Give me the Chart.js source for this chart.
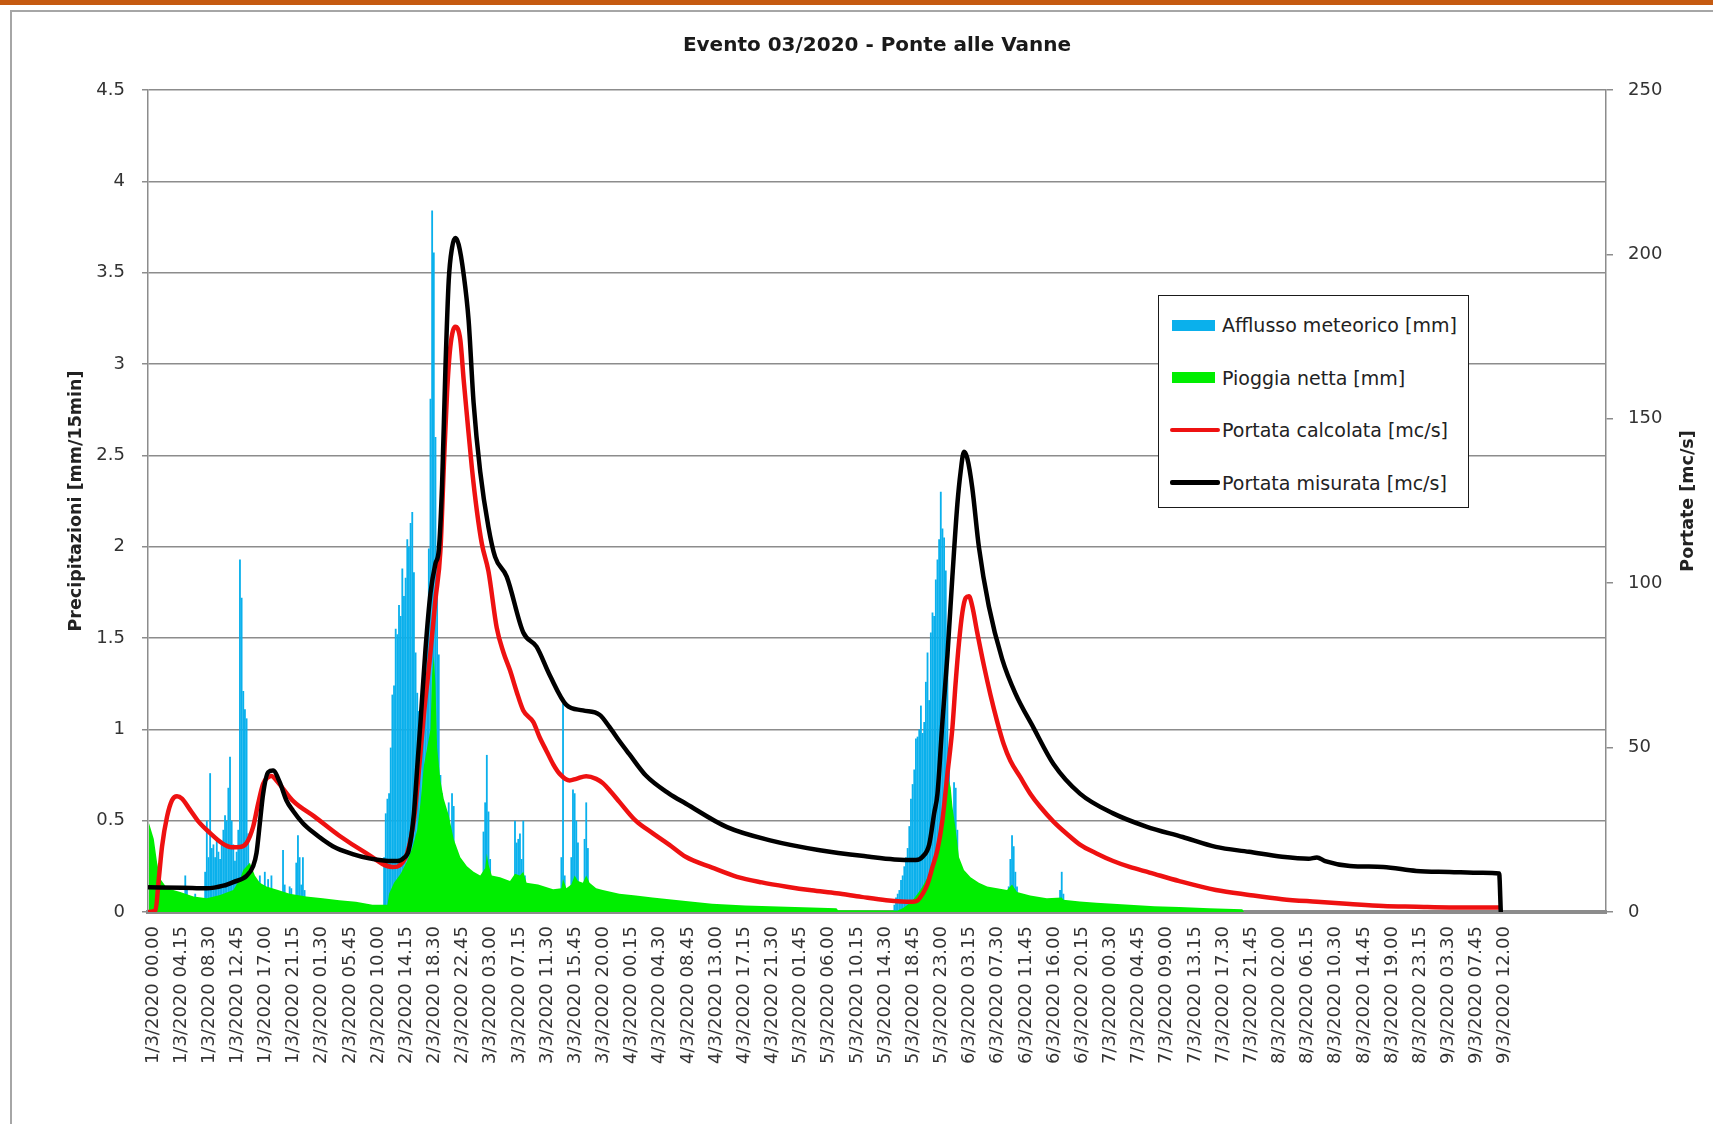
<!DOCTYPE html>
<html>
<head>
<meta charset="utf-8">
<script src="https://cdn.jsdelivr.net/npm/chart.js@4.4.1/dist/chart.umd.min.js"></script>
<style>
  html, body { margin: 0; padding: 0; background: #ffffff; }
  body { width: 1713px; height: 1124px; position: relative; overflow: hidden; }
  #topbar { position: absolute; left: 0; top: 0; width: 1713px; height: 5px; background: #c55a11; }
  #frame { position: absolute; left: 10px; top: 10px; width: 1760px; height: 1200px;
           border-left: 2px solid #a6a6a6; border-top: 2px solid #a6a6a6; }
  #chart { position: absolute; left: 0; top: 0; }
  #legend { position: absolute; left: 1158px; top: 295px; width: 309px; height: 211px;
            border: 1.5px solid #1a1a1a; background: #ffffff;
            font-family: "DejaVu Sans"; font-size: 19px; color: #222; }
  .lg-item { position: absolute; left: 0; width: 300px; height: 26px; }
  .lg-sw { position: absolute; }
  .lg-tx { position: absolute; left: 63px; top: 0; line-height: 26px; white-space: nowrap; }
</style>
</head>
<body>
<div id="topbar"></div>
<div id="frame"></div>
<canvas id="chart" width="1713" height="1124"></canvas>
<div id="legend"></div>
<script>
// ---------------- DATA ----------------
const chartTitle = 'Evento 03/2020 - Ponte alle Vanne';
const leftAxisTitle = 'Precipitazioni [mm/15min]';
const rightAxisTitle = 'Portate [mc/s]';
const seriesNames = ['Afflusso meteorico [mm]', 'Pioggia netta [mm]', 'Portata calcolata [mc/s]', 'Portata misurata [mc/s]'];

// one category every 15 minutes; a label every 17 categories
const TICK_STEP = 17;
const N_STEPS = 880;
const tickLabels = [
  '1/3/2020 00.00','1/3/2020 04.15','1/3/2020 08.30','1/3/2020 12.45','1/3/2020 17.00','1/3/2020 21.15',
  '2/3/2020 01.30','2/3/2020 05.45','2/3/2020 10.00','2/3/2020 14.15','2/3/2020 18.30','2/3/2020 22.45',
  '3/3/2020 03.00','3/3/2020 07.15','3/3/2020 11.30','3/3/2020 15.45','3/3/2020 20.00',
  '4/3/2020 00.15','4/3/2020 04.30','4/3/2020 08.45','4/3/2020 13.00','4/3/2020 17.15','4/3/2020 21.30',
  '5/3/2020 01.45','5/3/2020 06.00','5/3/2020 10.15','5/3/2020 14.30','5/3/2020 18.45','5/3/2020 23.00',
  '6/3/2020 03.15','6/3/2020 07.30','6/3/2020 11.45','6/3/2020 16.00','6/3/2020 20.15',
  '7/3/2020 00.30','7/3/2020 04.45','7/3/2020 09.00','7/3/2020 13.15','7/3/2020 17.30','7/3/2020 21.45',
  '8/3/2020 02.00','8/3/2020 06.15','8/3/2020 10.30','8/3/2020 14.45','8/3/2020 19.00','8/3/2020 23.15',
  '9/3/2020 03.30','9/3/2020 07.45','9/3/2020 12.00'
];

// [step index (15 min), mm]
const afflusso = [
  [22,0.2],[23,0.12],[28,0.1],
  [34,0.22],[35,0.5],[36,0.3],[37,0.76],[38,0.35],[39,0.37],[40,0.3],[41,0.4],[42,0.33],[43,0.29],[44,0.38],
  [45,0.45],[46,0.53],[47,0.5],[48,0.68],[49,0.85],[50,0.5],[51,0.37],[52,0.28],[53,0.33],[54,0.45],
  [55,1.93],[56,1.72],[57,1.21],[58,1.11],[59,1.06],[60,0.43],[61,0.23],[62,0.19],
  [67,0.2],[68,0.12],[70,0.22],[72,0.18],[74,0.2],[81,0.34],[82,0.15],[85,0.14],[86,0.13],
  [89,0.27],[90,0.42],[91,0.3],[92,0.15],[93,0.3],[94,0.12],
  [142,0.3],[143,0.54],[144,0.62],[145,0.65],[146,0.9],[147,1.19],[148,1.24],[149,1.55],[150,1.52],
  [151,1.68],[152,1.62],[153,1.88],[154,1.73],[155,1.83],[156,2.04],[157,2.0],[158,2.13],[159,2.19],
  [160,1.86],[161,1.42],[162,1.2],[163,1.1],[164,1.0],[165,0.95],[166,1.05],[167,1.3],[168,1.6],
  [169,1.99],[170,2.81],[171,3.84],[172,3.61],[173,2.6],[174,1.93],[175,1.41],[176,0.75],[177,0.65],
  [181,0.6],[183,0.65],[184,0.58],
  [202,0.44],[203,0.6],[204,0.86],[205,0.55],[206,0.29],
  [221,0.5],[222,0.38],[223,0.4],[224,0.43],[225,0.29],[226,0.5],[227,0.2],
  [249,0.3],[250,1.14],[251,0.2],
  [255,0.3],[256,0.67],[257,0.65],[258,0.5],[259,0.38],
  [263,0.4],[264,0.6],[265,0.35],
  [450,0.04],[451,0.08],[452,0.1],[453,0.12],[454,0.175],[455,0.2],[456,0.25],[457,0.3],[458,0.35],
  [459,0.47],[460,0.62],[461,0.7],[462,0.78],[463,0.95],[464,0.96],[465,1.0],[466,1.13],[467,0.98],
  [468,1.04],[469,1.26],[470,1.42],[471,1.16],[472,1.53],[473,1.64],[474,1.62],[475,1.82],[476,1.93],
  [477,2.04],[478,2.3],[479,2.1],[480,2.05],[481,1.87],[482,1.36],[483,0.9],[486,0.71],[487,0.68],[488,0.45],
  [519,0.14],[520,0.29],[521,0.42],[522,0.36],[523,0.22],[524,0.14],
  [550,0.12],[551,0.22],[552,0.1]
];

// [step index, mm]
const pioggiaNetta = [
  [0,0.49],[1,0.46],[3,0.4],[5,0.27],[7,0.18],[11,0.13],[19,0.11],[27,0.085],[35,0.075],[43,0.093],
  [51,0.12],[55,0.18],[57,0.23],[61,0.27],[64,0.2],[67,0.16],[71,0.14],[78,0.12],[85,0.1],[95,0.085],
  [105,0.075],[115,0.065],[125,0.056],[135,0.04],[144,0.04],[145,0.1],[148,0.16],[152,0.21],[156,0.28],
  [159,0.35],[162,0.45],[164,0.6],[166,0.8],[168,0.9],[170,1.0],[171,1.3],[172,1.4],[173,1.25],[174,0.9],
  [176,0.72],[178,0.62],[181,0.53],[184,0.4],[188,0.3],[192,0.25],[196,0.22],[200,0.2],[203,0.24],
  [204,0.32],[205,0.26],[207,0.2],[212,0.19],[218,0.17],[221,0.21],[224,0.2],[226,0.22],[228,0.16],
  [235,0.15],[244,0.125],[249,0.13],[250,0.18],[252,0.13],[255,0.15],[257,0.2],[259,0.17],[262,0.16],
  [264,0.2],[266,0.16],[270,0.13],[274,0.12],[284,0.1],[294,0.09],[304,0.08],[314,0.07],[324,0.06],
  [340,0.045],[360,0.035],[380,0.03],[400,0.025],[415,0.02],[416,0.01],[452,0.008],[455,0.02],[458,0.04],
  [461,0.065],[464,0.1],[467,0.14],[470,0.19],[473,0.25],[476,0.38],[478,0.5],[480,0.61],[482,0.7],
  [483,0.72],[484,0.68],[485,0.58],[487,0.45],[489,0.3],[492,0.23],[496,0.19],[501,0.16],[506,0.14],
  [512,0.13],[518,0.12],[521,0.15],[524,0.11],[532,0.09],[542,0.075],[551,0.08],[552,0.067],[562,0.058],
  [572,0.05],[582,0.045],[592,0.04],[607,0.032],[622,0.027],[640,0.02],[660,0.015],[661,0]
];

// [step index, mc/s]
const portataCalcolata = [
  [0,0],[4,0.5],[6,10],[8,20],[11,29],[14,34],[17,35.2],[20,34.5],[25,31],[30,27.5],[37,24],[44,21],
  [50,19.7],[55,19.8],[59,21],[63,26],[66,33],[69,39],[72,41],[74,41.4],[77,40],[81,37.5],[87,33.8],
  [100,29],[115,23.2],[130,18.3],[147,13.7],[150,13.8],[153,15],[156,18],[160,28],[163,43],[166,60],
  [170,79],[173,95],[176,110],[178,135],[180,158],[182,172],[185,178],[188,174],[190,162],[192,151],
  [195,135],[198,122],[201,112],[205,103.6],[210,86.4],[214,79],[218,73.5],[222,67],[226,61.3],[232,57.8],
  [236,53],[240,49],[244,45],[248,42],[254,40],[258,40.5],[264,41.3],[270,40.5],[274,39.2],[279,36.5],
  [284,33.5],[294,27.7],[304,24],[314,20.5],[324,16.8],[340,13.5],[355,10.7],[370,9],[385,7.7],[400,6.6],
  [415,5.7],[430,4.6],[445,3.6],[461,3.1],[464,3.5],[467,5.5],[470,8.5],[473,13.7],[476,19],[479,28],
  [482,42],[485,56],[487,70],[489,82],[491,91],[493,95.5],[495,96],[497,93],[500,85],[504,75],[508,66],
  [512,58],[516,51],[520,46],[526,41],[532,36],[538,32],[546,27.5],[554,23.8],[562,20.5],[572,17.8],
  [582,15.5],[592,13.7],[604,12],[622,9.4],[644,6.7],[664,5.2],[684,3.9],[705,3.1],[725,2.4],[745,1.8],
  [765,1.6],[785,1.4],[815,1.4]
];

// [step index, mc/s]
const portataMisurata = [
  [0,7.5],[20,7.4],[35,7.2],[45,8],[51,9.1],[59,11],[63,14],[65,18],[67,27],[69,36],[72,42.5],[75,43],
  [79,39.5],[83,34],[87,30.8],[93,27],[99,24.3],[111,20],[123,17.6],[133,16.3],[143,15.6],[150,15.5],
  [154,16.5],[157,19],[160,30],[162,44],[164,58],[167,80],[170,97],[173,106],[175,110],[177,130],[179,165],
  [181,192],[183,202],[185,205],[187,203],[190,194],[193,180],[196,155],[200,134],[205,117],[209,108],
  [216,102],[226,85],[234,80.7],[242,72],[252,63],[262,61.3],[272,60],[278,56.3],[284,52],[290,48],
  [300,41.5],[314,36],[324,33],[349,25.8],[375,21.8],[405,18.8],[435,16.8],[450,16],[463,15.8],[467,16.8],
  [471,20.5],[474,30],[476,36],[479,58],[482,78],[485,102],[488,124],[490,134],[492,140],[494,138],
  [497,129],[501,111],[507,93],[515,77],[523,66.5],[534,56],[546,45],[562,36],[582,30],[602,26],
  [624,22.8],[644,19.8],[664,18.3],[684,16.8],[700,16.2],[705,16.6],[710,15.5],[725,14],[745,13.7],
  [765,12.5],[785,12.2],[805,11.9],[815,11.7],[816,0]
];

// ---------------- STYLE ----------------
const COL_BLUE = '#0ab0ec';
const COL_GREEN = '#00ee00';
const COL_RED = '#ee1111';
const COL_BLACK = '#000000';
const COL_GRID = '#8c8c8c';
const COL_TEXT = '#333333';
const FONT = 'DejaVu Sans';

const toXY = arr => arr.map(p => ({ x: p[0], y: p[1] }));

const rightTitlePlugin = {
  id: 'rightTitle',
  afterDraw(chart) {
    const s = chart.scales.y1;
    const ctx = chart.ctx;
    ctx.save();
    ctx.font = 'bold 17.5px "' + FONT + '"';
    ctx.fillStyle = '#222';
    ctx.textAlign = 'center';
    ctx.textBaseline = 'middle';
    ctx.translate(s.right - 25, (chart.chartArea.top + chart.chartArea.bottom) / 2);
    ctx.rotate(-Math.PI / 2);
    ctx.fillText(rightAxisTitle, 0, 0);
    ctx.restore();
  }
};

const chart = new Chart(document.getElementById('chart'), {
  type: 'line',
  data: {
    datasets: [
      { type: 'line', label: seriesNames[3], data: toXY(portataMisurata), yAxisID: 'y1', order: 0,
        borderColor: COL_BLACK, borderWidth: 4.5, pointRadius: 0, cubicInterpolationMode: 'monotone',
        borderJoinStyle: 'round', borderCapStyle: 'round', fill: false },
      { type: 'line', label: seriesNames[2], data: toXY(portataCalcolata), yAxisID: 'y1', order: 1,
        borderColor: COL_RED, borderWidth: 4.5, pointRadius: 0, cubicInterpolationMode: 'monotone',
        borderJoinStyle: 'round', borderCapStyle: 'round', fill: false },
      { type: 'line', label: seriesNames[1], data: toXY(pioggiaNetta), yAxisID: 'y', order: 2,
        borderColor: COL_GREEN, borderWidth: 0, backgroundColor: COL_GREEN, pointRadius: 0, tension: 0,
        fill: 'origin' },
      { type: 'bar', label: seriesNames[0], data: toXY(afflusso), yAxisID: 'y', order: 3,
        backgroundColor: COL_BLUE, borderWidth: 0, barPercentage: 1.1, categoryPercentage: 1, grouped: false }
    ]
  },
  options: {
    responsive: false,
    animation: false,
    devicePixelRatio: 1,
    layout: { padding: { left: 0, right: 0, top: 0, bottom: 0 } },
    plugins: {
      legend: { display: false },
      tooltip: { enabled: false },
      title: { display: true, text: chartTitle, fullSize: false, color: '#1a1a1a',
               font: { family: FONT, size: 20, weight: 'bold' }, padding: { top: 34, bottom: 32 } }
    },
    scales: {
      x: {
        type: 'linear', min: -0.5, max: N_STEPS - 0.5, offset: false, z: 1,
        afterBuildTicks: s => { s.ticks = tickLabels.map((t, k) => ({ value: k * TICK_STEP })); },
        ticks: { autoSkip: false, maxRotation: 90, minRotation: 90, padding: 14, labelOffset: 4,
                 color: COL_TEXT, font: { family: FONT, size: 18 }, callback: (v, idx) => tickLabels[idx] },
        grid: { display: false, drawTicks: false, offset: false },
        border: { display: true, color: COL_GRID, width: 4 },
        afterFit: s => { s.height = 212; }
      },
      y: {
        type: 'linear', position: 'left', min: 0, max: 4.5,
        ticks: { stepSize: 0.5, padding: 17, color: COL_TEXT, font: { family: FONT, size: 18 },
                 callback: v => String(v) },
        grid: { color: COL_GRID, lineWidth: 1.5, tickLength: 6, tickColor: COL_GRID },
        border: { color: COL_GRID, width: 1.5 },
        title: { display: true, text: leftAxisTitle, color: '#222',
                 font: { family: FONT, size: 17.5, weight: 'bold' }, padding: { top: 66, bottom: 0 } },
        afterFit: s => { s.width = 148; }
      },
      y1: {
        type: 'linear', position: 'right', min: 0, max: 250,
        ticks: { stepSize: 50, padding: 15, color: COL_TEXT, font: { family: FONT, size: 18 } },
        grid: { drawOnChartArea: false, tickLength: 7, color: COL_GRID, lineWidth: 1.5 },
        border: { color: COL_GRID, width: 1.5 },
        afterFit: s => { s.width = 107; }
      }
    }
  },
  plugins: [rightTitlePlugin]
});

// ---------------- LEGEND (HTML, real text) ----------------
const legendItems = [
  { name: seriesNames[0], kind: 'box', color: COL_BLUE },
  { name: seriesNames[1], kind: 'box', color: COL_GREEN },
  { name: seriesNames[2], kind: 'line', color: COL_RED },
  { name: seriesNames[3], kind: 'line', color: COL_BLACK }
];
const lg = document.getElementById('legend');
legendItems.forEach((it, k) => {
  const row = document.createElement('div');
  row.className = 'lg-item';
  row.style.top = (16 + k * 52.6) + 'px';
  const sw = document.createElement('div');
  sw.className = 'lg-sw';
  if (it.kind === 'box') {
    sw.style.left = '13px'; sw.style.top = '7.5px'; sw.style.width = '43px'; sw.style.height = '11px';
  } else {
    sw.style.left = '11px'; sw.style.top = '10.5px'; sw.style.width = '50px'; sw.style.height = '4.5px';
    sw.style.borderRadius = '2px';
  }
  sw.style.background = it.color;
  const tx = document.createElement('div');
  tx.className = 'lg-tx';
  tx.textContent = it.name;
  row.appendChild(sw); row.appendChild(tx);
  lg.appendChild(row);
});
</script>
</body>
</html>
